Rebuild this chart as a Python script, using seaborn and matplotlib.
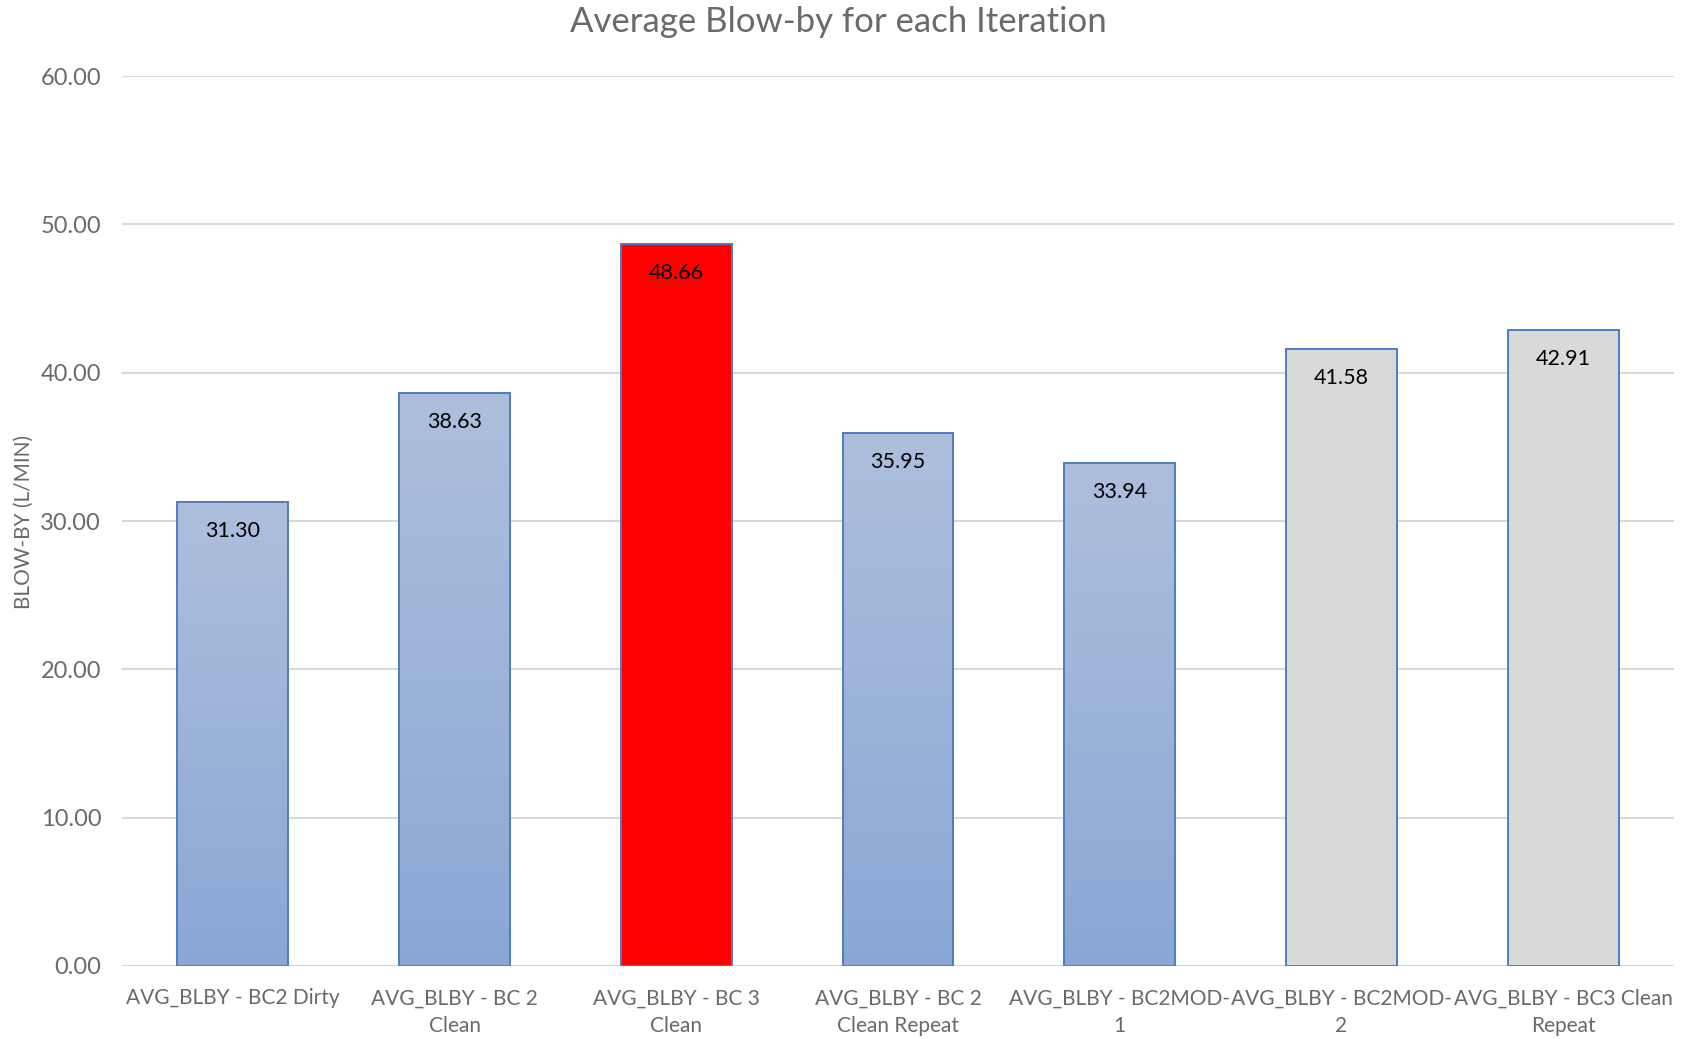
import numpy as np
import pandas as pd
import matplotlib
matplotlib.use("Agg")
import matplotlib.pyplot as plt
import seaborn as sns

categories = [
    "AVG_BLBY - BC2 Dirty",
    "AVG_BLBY - BC 2\nClean",
    "AVG_BLBY - BC 3\nClean",
    "AVG_BLBY - BC 2\nClean Repeat",
    "AVG_BLBY - BC2MOD-\n1",
    "AVG_BLBY - BC2MOD-\n2",
    "AVG_BLBY - BC3 Clean\nRepeat",
]
values = [31.30, 38.63, 48.66, 35.95, 33.94, 41.58, 42.91]
fill_kind = ["blue", "blue", "red", "blue", "blue", "gray", "gray"]
y_ticks = [0, 10, 20, 30, 40, 50, 60]

title = "Average Blow-by for each Iteration"
y_label = "BLOW-BY (L/MIN)"

GREY_TEXT = "#6a6a6a"
GRID = "#d9d9d9"
EDGE = "#4f7cc4"
solid = {"blue": "#9cb2d9", "red": "#ff0000", "gray": "#d9d9d9"}
grad_top, grad_bottom = "#aebfdd", "#8aa7d4"

sns.set_theme(style="white")
plt.rcParams["font.family"] = ["Lato", "DejaVu Sans"]

W, H = 1688, 1039
fig = plt.figure(figsize=(W / 100, H / 100), dpi=100)
ax = fig.add_axes([122 / W, 1 - 966 / H, (1674 - 122) / W, (966 - 76) / H])

df = pd.DataFrame({"cat": categories, "val": values})
palette = {c: solid[k] for c, k in zip(categories, fill_kind)}
sns.barplot(data=df, x="cat", y="val", hue="cat", palette=palette, legend=False,
            width=0.5, edgecolor=EDGE, linewidth=1.4, saturation=1, ax=ax, zorder=3)

ax.set_xlim(-0.5, len(categories) - 0.5)
ax.set_ylim(0, 60)
ax.set_yticks(y_ticks)
ax.set_yticklabels([f"{t:.2f}" for t in y_ticks])

# vertical gradient fill for the blue bars
cmap = matplotlib.colors.LinearSegmentedColormap.from_list("g", [grad_bottom, grad_top])
grad = np.linspace(0, 1, 256).reshape(-1, 1)
for patch, kind in zip(ax.patches, fill_kind):
    if kind != "blue":
        continue
    x0, y0 = patch.get_x(), patch.get_y()
    w, h = patch.get_width(), patch.get_height()
    im = ax.imshow(grad, cmap=cmap, origin="lower", aspect="auto",
                   extent=[x0, x0 + w, y0, y0 + h], zorder=3.5)
    im.set_clip_path(patch)
    patch.set_facecolor("none")
    patch.set_zorder(4)

# value labels just inside the top of each bar
for i, v in enumerate(values):
    ax.annotate(f"{v:.2f}", xy=(i, v), xytext=(0, -21), textcoords="offset points",
                ha="center", va="center", fontsize=15.5, color="#000000", zorder=6)

ax.yaxis.grid(True, color=GRID, linewidth=1.5, zorder=0)
ax.set_axisbelow(True)
for s in ax.spines.values():
    s.set_visible(False)
ax.axhline(0, color=GRID, linewidth=1.5, zorder=2)

ax.tick_params(axis="y", length=0, pad=15, labelsize=17, labelcolor=GREY_TEXT)
ax.tick_params(axis="x", length=0, pad=16, labelsize=15, labelcolor=GREY_TEXT)
for lab in ax.get_xticklabels():
    lab.set_linespacing(1.5)

ax.set_xlabel("")
ax.set_ylabel("")
fig.text(24 / W, 1 - 522 / H, y_label, rotation=90, ha="center", va="center",
         fontsize=15, color=GREY_TEXT)
fig.text(838 / W, 1 - 22 / H, title, ha="center", va="center", fontsize=25, color=GREY_TEXT)

fig.savefig("out.png", dpi=100, facecolor="white")
